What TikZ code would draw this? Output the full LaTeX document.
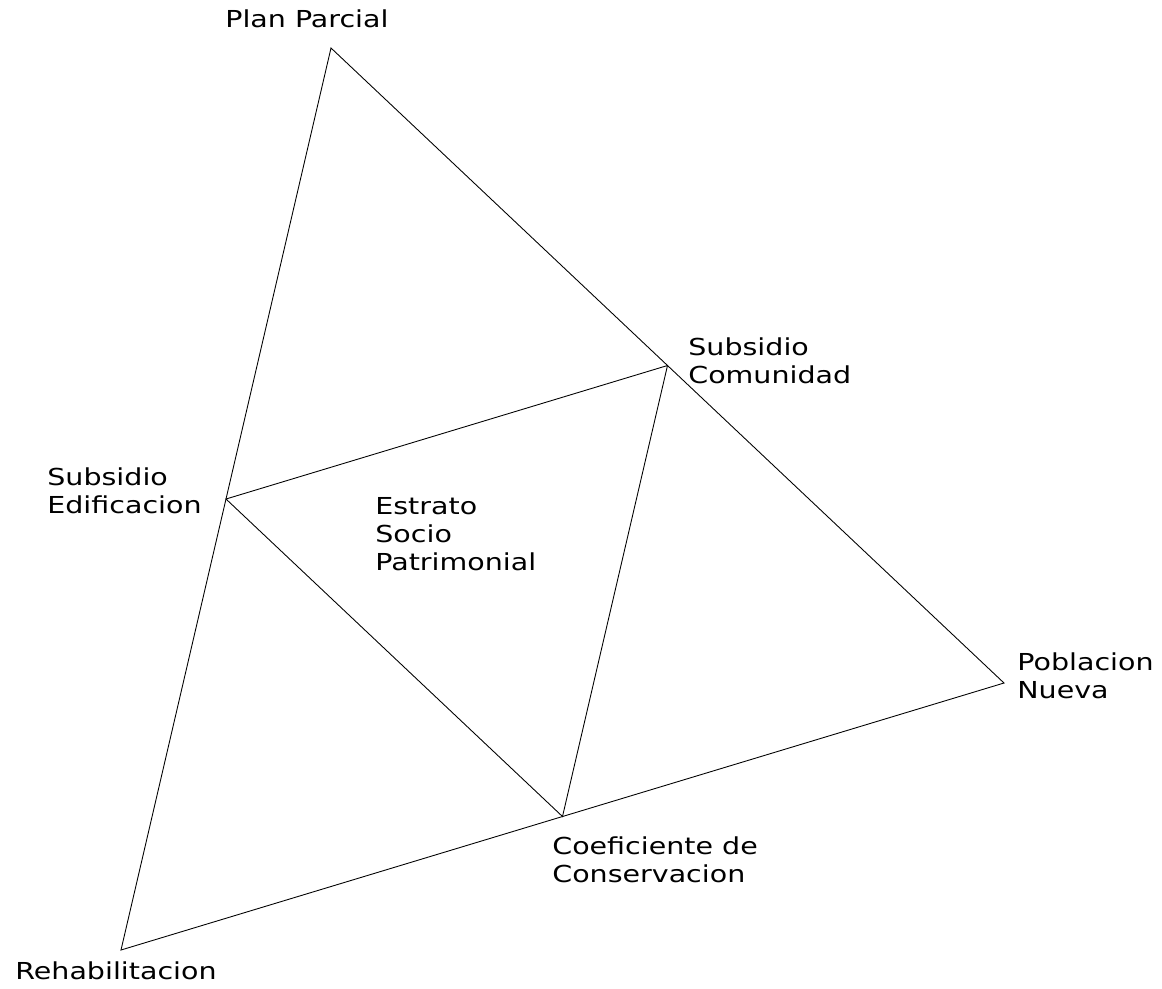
\documentclass[tikz,border=0pt]{standalone}
\usepackage{fontspec}
\setmainfont[FakeStretch=1.22]{DejaVu Sans}
\usetikzlibrary{calc}
\begin{document}
\begin{tikzpicture}[x=0.02cm, y=-0.02cm,
  edge/.style={line width=0.5pt, line join=miter},
  lbl/.style={anchor=north west, inner sep=0pt, align=left, font=\fontsize{13.3}{15.9}\selectfont}
]
\useasboundingbox (0,0) rectangle (1162,988);
\coordinate (top) at (331,48);
\coordinate (left) at (121,950);
\coordinate (right) at (1004,683);
\coordinate (mL) at ($(top)!0.5!(left)$);
\coordinate (mR) at ($(top)!0.5!(right)$);
\coordinate (mB) at ($(left)!0.5!(right)$);
\draw[edge] (top) -- (left) -- (right) -- cycle;
\draw[edge] (mL) -- (mR) -- (mB) -- cycle;
\node[lbl] (plan) at (225,9) {Plan Parcial};
\node[lbl] (subcom) at (688,337) {Subsidio\\Comunidad};
\node[lbl] (subedi) at (47,467) {Subsidio\\Edificacion};
\node[lbl] (estrato) at (375,497) {Estrato\\Socio\\Patrimonial};
\node[lbl] (pobl) at (1017,652) {Poblacion\\Nueva};
\node[lbl] (coef) at (552,836) {Coeficiente de\\Conservacion};
\node[lbl] (rehab) at (15,961) {Rehabilitacion};
\end{tikzpicture}
\end{document}
